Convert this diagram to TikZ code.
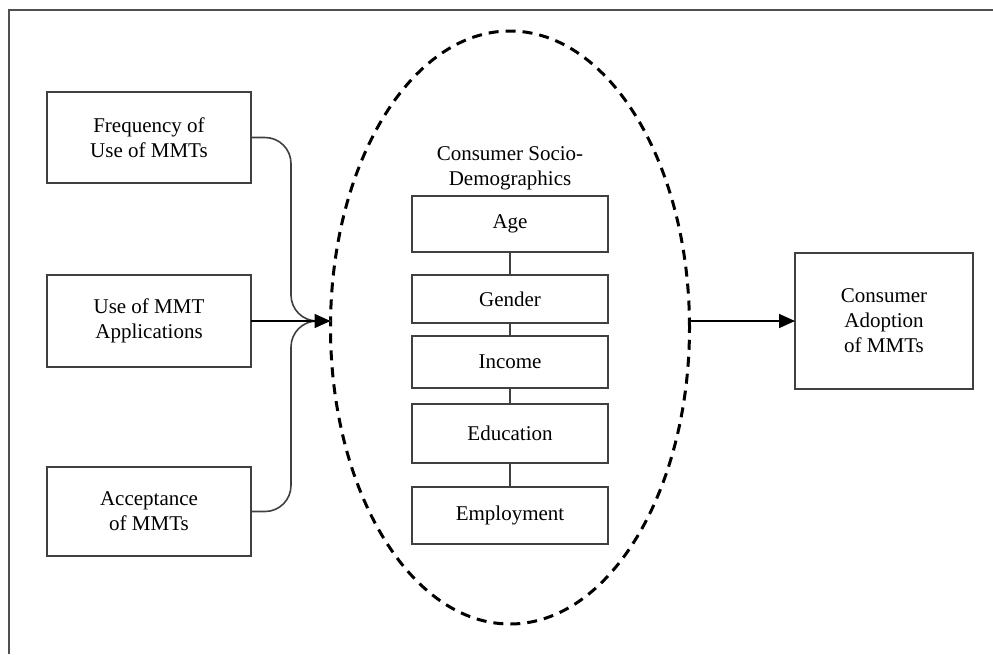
\documentclass[tikz,border=0pt]{standalone}
\usepackage{fontspec}
\setmainfont{Liberation Serif}
\usetikzlibrary{shapes.geometric,arrows.meta,calc}
\definecolor{boxline}{HTML}{404040}
\definecolor{frameline}{HTML}{505050}
\begin{document}
\begin{tikzpicture}[x=1pt,y=-1pt,
  font=\fontsize{21}{25}\selectfont,
  box/.style={draw=boxline,line width=1.8pt,fill=white,align=center,inner sep=2pt,outer sep=0pt},
  outbox/.style={box,minimum width=204pt},
  inbox/.style={box,minimum width=196pt},
  conn/.style={draw=boxline,line width=1.6pt},
  arr/.style={draw=black,line width=1.6pt,-{Triangle[length=16pt,width=14pt]}},
]
\useasboundingbox (0,0) rectangle (993,654);
\draw[frameline,line width=2pt] (9,654) -- (9,10) -- (993,10);

% dashed ellipse
\node[ellipse,draw=black,dashed,dash pattern=on 10pt off 7pt,line width=3pt,
      minimum width=359pt,minimum height=593pt,inner sep=0pt,outer sep=0pt] (ell) at (510,327.5) {};

% left boxes
\node[outbox,minimum height=91pt] (b1) at (149,137.5) {Frequency of\\Use of MMTs};
\node[outbox,minimum height=92pt] (b2) at (149,321) {Use of MMT\\Applications};
\node[outbox,minimum height=89pt] (b3) at (149,511.5) {Acceptance\\of MMTs};

% right box
\node[box,minimum width=178pt,minimum height=136pt] (rb) at (884,321) {Consumer\\Adoption\\of MMTs};

% title
\node[align=center,inner sep=0pt] (title) at (510,168) {Consumer Socio-\\Demographics};

% inner boxes
\node[inbox,minimum height=56pt] (age) at (510,224) {Age};
\node[inbox,minimum height=48pt] (gen) at (510,299) {Gender};
\node[inbox,minimum height=52pt] (inc) at (510,362) {Income};
\node[inbox,minimum height=59pt] (edu) at (510,433.5) {Education};
\node[inbox,minimum height=57pt] (emp) at (510,515.5) {Employment};

\draw[conn] (age.south) -- (gen.north);
\draw[conn] (gen.south) -- (inc.north);
\draw[conn] (inc.south) -- (edu.north);
\draw[conn] (edu.south) -- (emp.north);

% connectors into ellipse
\coordinate (tip) at (ell.west |- b2.east);
\coordinate (jx) at (291,0);
\draw[conn,rounded corners=26pt] (b1.east) -| (jx |- tip) -- (tip);
\draw[conn,rounded corners=26pt] (b3.east) -| (jx |- tip) -- (tip);
\draw[arr] (b2.east) -- (tip);

% out of ellipse
\coordinate (otip) at (ell.east |- rb.west);
\draw[arr] (otip) -- (rb.west);
\end{tikzpicture}
\end{document}
